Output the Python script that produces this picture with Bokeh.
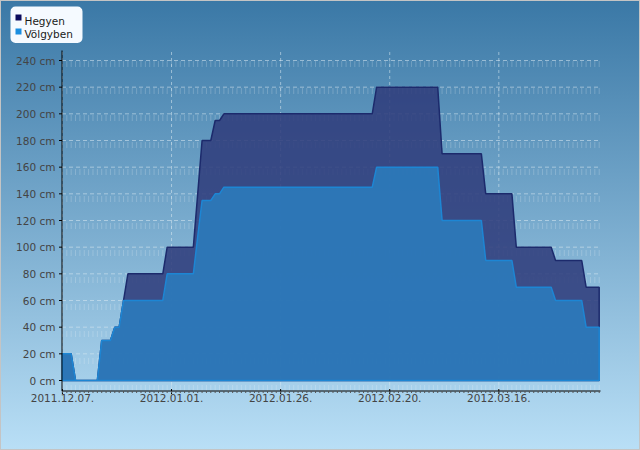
import numpy as np
from bokeh.plotting import figure
from bokeh.models import Range1d, BoxAnnotation
from bokeh.core.properties import value
from bokeh.embed import file_html
from bokeh.resources import INLINE

# ---- data (daily snow depth, cm), first day 2011.12.07. ----
series_names = ["Hegyen", "Völgyben"]
legend_colors = ["#0b0b5c", "#1a8ee0"]

hegyen = [20, 20, 20, 0, 0, 0, 0, 0, 0, 30,
          30, 30, 40, 40, 60, 80, 80, 80, 80, 80,
          80, 80, 80, 80, 100, 100, 100, 100, 100, 100,
          100, 140, 180, 180, 180, 195, 195, 200, 200, 200,
          200, 200, 200, 200, 200, 200, 200, 200, 200, 200,
          200, 200, 200, 200, 200, 200, 200, 200, 200, 200,
          200, 200, 200, 200, 200, 200, 200, 200, 200, 200,
          200, 200, 220, 220, 220, 220, 220, 220, 220, 220,
          220, 220, 220, 220, 220, 220, 220, 170, 170, 170,
          170, 170, 170, 170, 170, 170, 170, 140, 140, 140,
          140, 140, 140, 140, 100, 100, 100, 100, 100, 100,
          100, 100, 100, 90, 90, 90, 90, 90, 90, 90,
          70, 70, 70, 70]

volgyben = [20, 20, 20, 0, 0, 0, 0, 0, 0, 30,
            30, 30, 40, 40, 60, 60, 60, 60, 60, 60,
            60, 60, 60, 60, 80, 80, 80, 80, 80, 80,
            80, 108, 135, 135, 135, 140, 140, 145, 145, 145,
            145, 145, 145, 145, 145, 145, 145, 145, 145, 145,
            145, 145, 145, 145, 145, 145, 145, 145, 145, 145,
            145, 145, 145, 145, 145, 145, 145, 145, 145, 145,
            145, 145, 160, 160, 160, 160, 160, 160, 160, 160,
            160, 160, 160, 160, 160, 160, 160, 120, 120, 120,
            120, 120, 120, 120, 120, 120, 120, 90, 90, 90,
            90, 90, 90, 90, 70, 70, 70, 70, 70, 70,
            70, 70, 70, 60, 60, 60, 60, 60, 60, 60,
            40, 40, 40, 40]

tick_days = [0, 25, 50, 75, 100]
tick_labels = ["2011.12.07.", "2012.01.01.", "2012.01.26.", "2012.02.20.", "2012.03.16."]
y_ticks = [0, 20, 40, 60, 80, 100, 120, 140, 160, 180, 200, 220, 240]
y_tick_labels = ["%d cm" % v for v in y_ticks]

day = np.arange(len(hegyen))
base = np.zeros(len(day))

# ---- layout (pixels) ----
W, H = 640, 450
FL, FR, FT, FB = 61.5, 600.0, 50.0, 390.5     # plot-area edges on the canvas
PX0, PX1 = -0.1, 123.3                          # plot-area x extent (days)
PY0, PY1 = -7.875, 247.5                        # plot-area y extent (cm)
kx = (FR - FL) / (PX1 - PX0)
ky = (FB - FT) / (PY1 - PY0)
X0, X1 = PX0 - FL / kx, PX1 + (W - FR) / kx
Y0, Y1 = PY0 - (H - FB) / ky, PY1 + FT / ky


def sx2x(sx):
    return X0 + sx / kx


def sy2y(sy):
    return Y1 - sy / ky


# legend layout (pixels)
LEG_L, LEG_T, LEG_R, LEG_B = 10, 6, 82, 42.5
SW_X, SW_Y = 18, [17, 31]
TX_X, TX_BASE = 24, [20.3, 33.6]

FONT = value("DejaVu Sans")
FSIZE = value("10.5px")

p = figure(width=W, height=H, output_backend="svg", toolbar_location=None,
           x_range=Range1d(X0, X1), y_range=Range1d(Y0, Y1),
           x_axis_location=None, y_axis_location=None, min_border=0)
p.grid.grid_line_color = None
p.background_fill_alpha = 0
p.border_fill_alpha = 0
p.outline_line_color = None
p.styles = {"background": "linear-gradient(to bottom, #3a78a6 0%, #b9dff6 100%)",
            "box-shadow": "inset 0 0 0 1px #c4c4c4"}

n_days = len(day)
n_y = len(y_ticks)
n_x = len(tick_days)

# ---- grid ----
p.segment(x0=day, y0=[PY0] * n_days, x1=day, y1=[PY1] * n_days,
          line_color="#ffffff", line_alpha=0.2, line_width=1, line_dash="6 21")
p.segment(x0=tick_days, y0=[PY0] * n_x, x1=tick_days, y1=[PY1] * n_x,
          line_color="#dbe9f3", line_alpha=0.55, line_width=1, line_dash="3 3")
p.segment(x0=[PX0] * n_y, y0=y_ticks, x1=[PX1] * n_y, y1=y_ticks,
          line_color="#dbe9f3", line_alpha=0.55, line_width=1, line_dash="4 3")

# ---- areas ----
xs_poly = np.concatenate([day, day[::-1]])
p.patch(xs_poly, np.concatenate([np.array(hegyen, float), base[::-1]]),
        fill_color="#303e7c", fill_alpha=0.88, line_color="#1c2a6c", line_width=1.5)
p.patch(xs_poly, np.concatenate([np.array(volgyben, float), base[::-1]]),
        fill_color="#2b7cbd", fill_alpha=0.88, line_color="#1d86d4", line_width=1.5)

# ---- axes ----
p.segment(x0=[PX0, PX0], y0=[PY0, PY0], x1=[PX1, PX0], y1=[PY0, PY1],
          line_color="#000000", line_width=1)
p.ray(x=[PX0] * n_y, y=y_ticks, length=3, angle=np.pi, length_units="screen",
      line_color="#000000", line_width=1)
p.ray(x=tick_days, y=[PY0] * n_x, length=3, angle=-np.pi / 2, length_units="screen",
      line_color="#000000", line_width=1)
p.ray(x=tick_days, y=[PY0] * n_x, length=2, angle=np.pi / 2, length_units="screen",
      line_color="#000000", line_width=1)
p.ray(x=day, y=[PY0] * n_days, length=2, angle=-np.pi / 2, length_units="screen",
      line_color="#555555", line_width=1)

p.text(x=[PX0] * n_y, y=y_ticks, text=y_tick_labels, x_offset=-6.5,
       text_align="right", text_baseline="middle", text_font=FONT,
       text_font_size=FSIZE, text_color="#444444")
p.text(x=tick_days, y=[PY0] * n_x, text=tick_labels, y_offset=2.5,
       text_align="center", text_baseline="top", text_font=FONT,
       text_font_size=FSIZE, text_color="#444444")

# ---- legend (drawn by hand, above the plot area) ----
box = BoxAnnotation(left=sx2x(LEG_L), right=sx2x(LEG_R), top=sy2y(LEG_T), bottom=sy2y(LEG_B),
                    fill_color="#f5faff", fill_alpha=1, line_color=None)
try:
    box.border_radius = 5
except Exception:
    pass
p.add_layout(box)
p.scatter(x=[sx2x(SW_X)] * 2, y=[sy2y(v) for v in SW_Y], marker="square", size=6,
          fill_color=legend_colors, line_color=None, level="overlay")
p.text(x=[sx2x(TX_X)] * 2, y=[sy2y(v) for v in TX_BASE], text=series_names,
       text_align="left", text_baseline="alphabetic", text_font=FONT,
       text_font_size=FSIZE, text_color="#1a1a1a", level="overlay")

open("out.html", "w").write(file_html(p, INLINE))
